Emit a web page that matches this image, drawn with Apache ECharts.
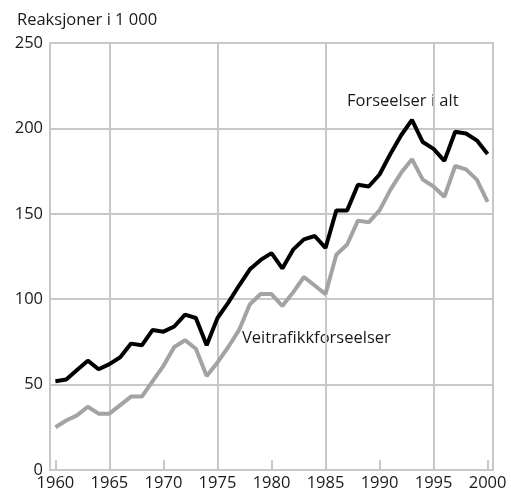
<!DOCTYPE html>
<html>
<head>
<meta charset="utf-8">
<script src="https://cdn.jsdelivr.net/npm/echarts@6/dist/echarts.min.js"></script>
<style>
html, body { margin: 0; padding: 0; background: #fff; }
#main { width: 511px; height: 492px; }
</style>
</head>
<body>
<div id="main"></div>
<script>
var chartDom = document.getElementById('main');
var myChart = echarts.init(chartDom, null);

// years and values (in thousands)
var years = [1960,1961,1962,1963,1964,1965,1966,1967,1968,1969,
             1970,1971,1972,1973,1974,1975,1976,1977,1978,1979,
             1980,1981,1982,1983,1984,1985,1986,1987,1988,1989,
             1990,1991,1992,1993,1994,1995,1996,1997,1998,1999,2000];
var total = [52,53,58.5,64,59,62,66,74,73,82,
             81,84,91,89,73,89,98,108,117.5,123,
             127,118,129,135,137,130,152,152,167,166,
             173,185,196,205,192,188,181,198,197,193,185];
var traffic = [25,29,32,37,33,33,38,43,43,52,
               61,72,76,71,55,63,72,82,97,103,
               103,96,104,113,108,103,126,132,146,145,
               152,164,174,182,170,166,160,178,176,170,157];
var labelYears = [1960,1965,1970,1975,1980,1985,1990,1995,2000];
var tickYears = [1960,1970,1980,1990,2000];
var gridYears = [1965,1975,1985,1995];

var gridGray = '#c8c8c8';
var textColor = '#1a1a1a';
var font = 'Open Sans';

function pairs(vals) {
    return years.map(function (y, i) { return [y, vals[i]]; });
}

var option = {
    animation: false,
    textStyle: { fontFamily: font },
    title: {
        text: 'Reaksjoner i 1 000',
        left: 12,
        top: 7,
        textStyle: { fontSize: 16.5, fontWeight: 'normal', color: textColor, fontFamily: font }
    },
    grid: {
        left: 50, right: 18, top: 43, bottom: 22,
        show: true,
        borderColor: gridGray,
        borderWidth: 2
    },
    xAxis: {
        type: 'value',
        min: 1959.5,
        max: 2000.5,
        axisLine: { show: true, lineStyle: { color: gridGray, width: 2 } },
        axisTick: {
            show: true, inside: true, length: 10,
            customValues: tickYears,
            lineStyle: { color: gridGray, width: 2 }
        },
        axisLabel: {
            customValues: labelYears,
            formatter: function (v) { return String(v); },
            fontSize: 16.5, color: textColor, margin: 5, fontFamily: font
        },
        splitLine: { show: false }
    },
    yAxis: {
        type: 'value',
        min: 0,
        max: 250,
        interval: 50,
        axisLine: { show: true, lineStyle: { color: gridGray, width: 2 } },
        axisTick: { show: false },
        axisLabel: { fontSize: 16.5, color: textColor, margin: 7, fontFamily: font },
        splitLine: { show: true, lineStyle: { color: gridGray, width: 2 } }
    },
    graphic: [
        {
            type: 'text', left: 347, top: 93,
            style: { text: 'Forseelser i alt', fontSize: 16.5, fill: textColor, fontFamily: font }
        },
        {
            type: 'text', left: 242, top: 330,
            style: { text: 'Veitrafikkforseelser', fontSize: 16.5, fill: textColor, fontFamily: font }
        }
    ],
    series: [
        {
            type: 'line',
            data: [],
            z: 1,
            silent: true,
            markLine: {
                silent: true,
                z: 1,
                symbol: ['none', 'none'],
                label: { show: false },
                lineStyle: { color: gridGray, width: 2, type: 'solid' },
                data: gridYears.map(function (y) { return { xAxis: y }; })
            }
        },
        {
            name: 'Veitrafikkforseelser',
            type: 'line',
            data: pairs(traffic),
            showSymbol: false,
            lineStyle: { color: '#a3a3a3', width: 4 },
            z: 3
        },
        {
            name: 'Forseelser i alt',
            type: 'line',
            data: pairs(total),
            showSymbol: false,
            lineStyle: { color: '#000000', width: 4 },
            z: 4
        }
    ]
};

myChart.setOption(option);
</script>
</body>
</html>
